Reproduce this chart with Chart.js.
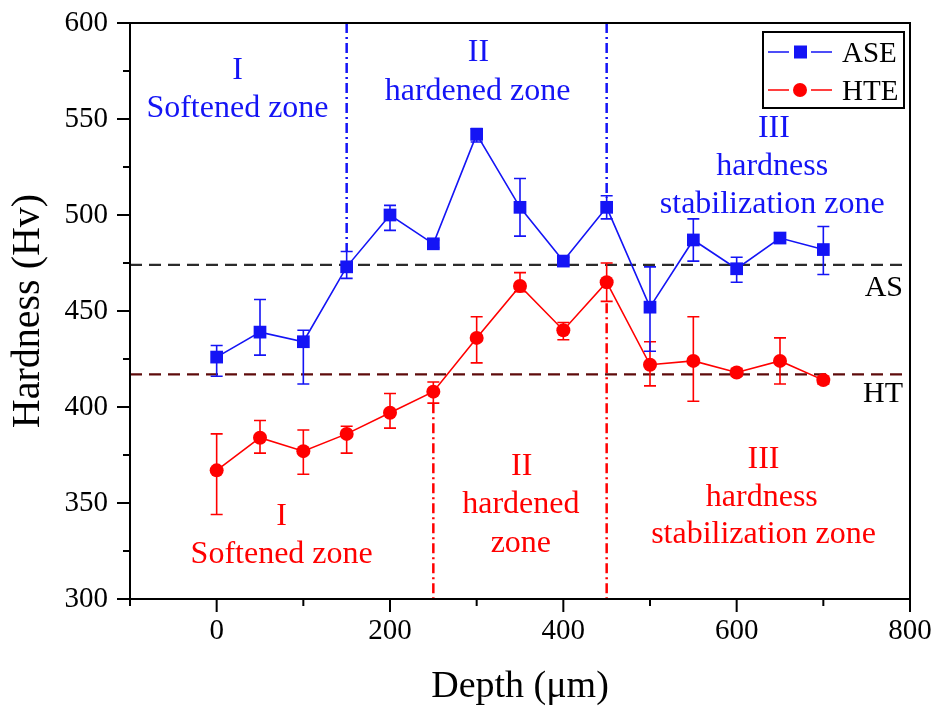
<!DOCTYPE html>
<html>
<head>
<meta charset="utf-8">
<script src="https://cdn.jsdelivr.net/npm/chart.js@4.4.1/dist/chart.umd.min.js"></script>
<style>
  html, body { margin: 0; padding: 0; background: #fff; }
  #wrap { width: 936px; height: 711px; }
</style>
</head>
<body>
<div id="wrap"><canvas id="hardnessChart" width="936" height="711"></canvas></div>
<script>
// --- data ---
const depth = [0, 50, 100, 150, 200, 250, 300, 350, 400, 450, 500, 550, 600, 650, 700];
const ase = [426, 439, 434, 473, 500, 485, 542, 504, 476, 504, 452, 487, 472, 488, 482];
const aseErrUp = [6, 17, 6, 8, 5, 2, 3, 15, 2, 6, 21, 11, 6, 2, 12];
const aseErrDown = [10, 12, 22, 6, 8, 2, 4, 15, 2, 6, 23, 11, 7, 2, 13];
const hte = [367, 384, 377, 386, 397, 408, 436, 463, 440, 465, 422, 424, 418, 424, 414];
const hteErrUp = [19, 9, 11, 4, 10, 5, 11, 7, 4, 10, 12, 23, 2, 12, 2];
const hteErrDown = [23, 8, 12, 10, 8, 6, 13, 3, 5, 10, 11, 21, 2, 12, 2];

const asLevel = 474;
const htLevel = 417;

// zone boundaries (depth) and where each dash-dot line stops
const blueZoneX = [150, 450];
const blueZoneStop = [481, 509];
const redZoneX = [250, 450];
const redZoneStop = [402, 454];

const xTickValues = [0, 200, 400, 600, 800];
const yTickValues = [300, 350, 400, 450, 500, 550, 600];

const BLUE = "rgb(20,20,245)";
const RED = "rgb(255,0,0)";
const SERIF = "'Liberation Serif', 'Times New Roman', serif";

// zone captions, placed in data units (x = centre, y = baseline)
const zoneLabels = [
  { text: "I", x: 24, y: 571, color: BLUE },
  { text: "Softened zone", x: 24, y: 551, color: BLUE },
  { text: "II", x: 302, y: 580, color: BLUE },
  { text: "hardened zone", x: 301, y: 560, color: BLUE },
  { text: "III", x: 643, y: 540.6, color: BLUE },
  { text: "hardness", x: 641, y: 520.8, color: BLUE },
  { text: "stabilization zone", x: 641, y: 501, color: BLUE },
  { text: "I", x: 75, y: 338.5, color: RED },
  { text: "Softened zone", x: 75, y: 318.7, color: RED },
  { text: "II", x: 352, y: 364.6, color: RED },
  { text: "hardened", x: 351, y: 344.8, color: RED },
  { text: "zone", x: 351, y: 324.5, color: RED },
  { text: "III", x: 631, y: 368.2, color: RED },
  { text: "hardness", x: 629, y: 348.4, color: RED },
  { text: "stabilization zone", x: 631, y: 329.2, color: RED }
];

const pts = (ys) => depth.map((d, i) => ({ x: d, y: ys[i] }));

function vLine(x, y0, y1, color) {
  return {
    label: "_zone",
    data: [{ x: x, y: y0 }, { x: x, y: y1 }],
    showLine: true,
    borderColor: color,
    borderWidth: 2.5,
    borderDash: [10, 4, 2, 4],
    pointRadius: 0,
    order: 5
  };
}

const errorBars = {
  id: "errorBars",
  beforeDatasetDraw(chart, args) {
    const ds = chart.data.datasets[args.index];
    if (!ds.errUp) return;
    const { ctx, scales } = chart;
    ctx.save();
    ctx.strokeStyle = ds.borderColor;
    ctx.lineWidth = 1.6;
    ds.data.forEach((p, i) => {
      const x = scales.x.getPixelForValue(p.x);
      const yt = scales.y.getPixelForValue(p.y + ds.errUp[i]);
      const yb = scales.y.getPixelForValue(p.y - ds.errDown[i]);
      ctx.beginPath();
      ctx.moveTo(x, yt); ctx.lineTo(x, yb);
      ctx.moveTo(x - 6, yt); ctx.lineTo(x + 6, yt);
      ctx.moveTo(x - 6, yb); ctx.lineTo(x + 6, yb);
      ctx.stroke();
    });
    ctx.restore();
  }
};

const frameAndText = {
  id: "frameAndText",
  afterDraw(chart) {
    const { ctx, chartArea: a, scales } = chart;
    const sx = scales.x, sy = scales.y;
    ctx.save();
    // frame
    ctx.strokeStyle = "#000";
    ctx.lineWidth = 2;
    ctx.strokeRect(a.left, a.top, a.right - a.left, a.bottom - a.top);
    // ticks
    ctx.beginPath();
    for (let v = 300; v <= 600; v += 25) {
      const y = sy.getPixelForValue(v);
      const len = v % 50 === 0 ? 13 : 7;
      ctx.moveTo(a.left, y); ctx.lineTo(a.left - len, y);
    }
    for (let v = -100; v <= 800; v += 100) {
      const x = sx.getPixelForValue(v);
      const len = v % 200 === 0 ? 13 : 7;
      ctx.moveTo(x, a.bottom); ctx.lineTo(x, a.bottom + len);
    }
    ctx.stroke();

    // zone captions
    ctx.font = "32px " + SERIF;
    ctx.textAlign = "center";
    ctx.textBaseline = "alphabetic";
    zoneLabels.forEach((l) => {
      ctx.fillStyle = l.color;
      ctx.fillText(l.text, sx.getPixelForValue(l.x), sy.getPixelForValue(l.y));
    });

    // AS / HT reference labels
    ctx.fillStyle = "#000";
    ctx.font = "30px " + SERIF;
    ctx.textAlign = "right";
    ctx.fillText("AS", a.right - 7, sy.getPixelForValue(asLevel) + 31);
    ctx.fillText("HT", a.right - 7, sy.getPixelForValue(htLevel) + 28);

    // legend
    const lx = 763, ly = 32, lw = 141, lh = 76;
    ctx.strokeStyle = "#000";
    ctx.lineWidth = 2;
    ctx.strokeRect(lx, ly, lw, lh);
    const rows = [
      { ds: chart.data.datasets[0], y: 52, text: "ASE" },
      { ds: chart.data.datasets[1], y: 90, text: "HTE" }
    ];
    rows.forEach((r) => {
      ctx.strokeStyle = r.ds.borderColor;
      ctx.lineWidth = 1.6;
      ctx.beginPath();
      ctx.moveTo(768, r.y); ctx.lineTo(789, r.y);
      ctx.moveTo(811, r.y); ctx.lineTo(832, r.y);
      ctx.stroke();
      ctx.fillStyle = r.ds.backgroundColor;
      if (r.ds.pointStyle === "rect") {
        ctx.fillRect(794, r.y - 6.5, 13, 13);
      } else {
        ctx.beginPath();
        ctx.arc(800, r.y, 7, 0, Math.PI * 2);
        ctx.fill();
      }
      ctx.fillStyle = "#000";
      ctx.font = "29px " + SERIF;
      ctx.textAlign = "left";
      ctx.fillText(r.text, 842, r.y + 10);
    });
    ctx.restore();
  }
};

new Chart(document.getElementById("hardnessChart"), {
  type: "scatter",
  data: {
    datasets: [
      {
        label: "ASE",
        data: pts(ase),
        errUp: aseErrUp,
        errDown: aseErrDown,
        showLine: true,
        borderColor: BLUE,
        backgroundColor: BLUE,
        borderWidth: 1.6,
        pointStyle: "rect",
        pointRadius: 9,
        pointBorderWidth: 0,
        order: 0
      },
      {
        label: "HTE",
        data: pts(hte),
        errUp: hteErrUp,
        errDown: hteErrDown,
        showLine: true,
        borderColor: RED,
        backgroundColor: RED,
        borderWidth: 1.6,
        pointStyle: "circle",
        pointRadius: 7,
        pointBorderWidth: 0,
        order: 1
      },
      {
        label: "_AS",
        data: [{ x: -100, y: asLevel }, { x: 800, y: asLevel }],
        showLine: true,
        borderColor: "#2b2b2b",
        borderWidth: 2.2,
        borderDash: [12, 7],
        pointRadius: 0,
        order: 4
      },
      {
        label: "_HT",
        data: [{ x: -100, y: htLevel }, { x: 800, y: htLevel }],
        showLine: true,
        borderColor: "#5e0b0b",
        borderWidth: 2.2,
        borderDash: [12, 7],
        pointRadius: 0,
        order: 4
      },
      vLine(blueZoneX[0], 600, blueZoneStop[0], BLUE),
      vLine(blueZoneX[1], 600, blueZoneStop[1], BLUE),
      vLine(redZoneX[0], redZoneStop[0], 300, RED),
      vLine(redZoneX[1], redZoneStop[1], 300, RED)
    ]
  },
  options: {
    responsive: false,
    animation: false,
    layout: { padding: { top: 23, right: 26, left: 0, bottom: 0 } },
    plugins: { legend: { display: false }, tooltip: { enabled: false } },
    scales: {
      x: {
        type: "linear",
        min: -100,
        max: 800,
        afterBuildTicks: (s) => { s.ticks = xTickValues.map((v) => ({ value: v })); },
        afterFit: (s) => { s.height = 112; s.paddingLeft = 0; s.paddingRight = 0; },
        grid: { display: false, drawTicks: false },
        border: { display: false },
        ticks: { color: "#000", padding: 15, font: { family: SERIF, size: 29 } },
        title: {
          display: true,
          text: "Depth (μm)",
          color: "#000",
          font: { family: SERIF, size: 38 },
          padding: { top: 0, bottom: 1 }
        }
      },
      y: {
        type: "linear",
        min: 300,
        max: 600,
        afterBuildTicks: (s) => { s.ticks = yTickValues.map((v) => ({ value: v })); },
        afterFit: (s) => { s.width = 130; s.paddingTop = 0; s.paddingBottom = 0; },
        grid: { display: false, drawTicks: false },
        border: { display: false },
        ticks: { color: "#000", padding: 22, font: { family: SERIF, size: 29 } },
        title: {
          display: true,
          text: "Hardness (Hv)",
          color: "#000",
          font: { family: SERIF, size: 40 },
          padding: { top: 4, bottom: 0 }
        }
      }
    }
  },
  plugins: [errorBars, frameAndText]
});
</script>
</body>
</html>
